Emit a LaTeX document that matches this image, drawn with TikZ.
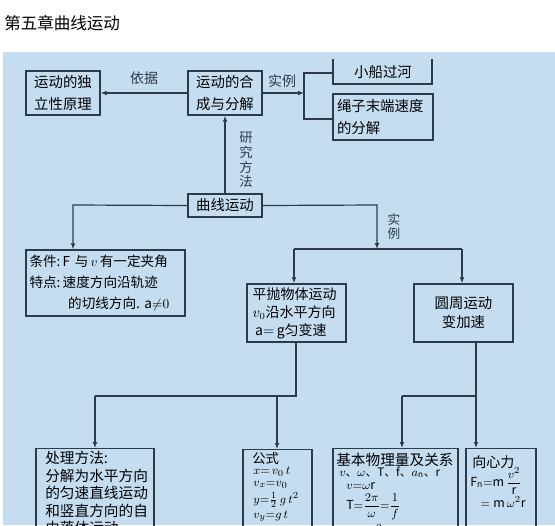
\documentclass[tikz,border=0pt]{standalone}
\usepackage{amsmath}
\usepackage{fontspec}
\setmainfont{Noto Sans CJK SC}
\usetikzlibrary{arrows.meta}
\definecolor{bg}{HTML}{C5DDF1}
\definecolor{ln}{HTML}{2C3B4B}
\begin{document}
\begin{tikzpicture}[x=0.75pt,y=-0.75pt,
  box/.style={draw=ln, line width=1.1pt, inner sep=0pt},
  conn/.style={draw=ln, line width=0.9pt},
  arr/.style={conn, -{Latex[length=4.5pt,width=3.6pt]}},
  big/.style={font=\fontsize{10.8pt}{16.5pt}\selectfont, inner sep=0pt},
  mid/.style={font=\fontsize{10.5pt}{13.5pt}\selectfont, inner sep=0pt},
  small/.style={font=\fontsize{9.3pt}{10pt}\selectfont, inner sep=0pt, anchor=west},
  lab/.style={font=\fontsize{10pt}{11pt}\selectfont, inner sep=0pt, align=center, text=ln}]
\useasboundingbox (0,0) rectangle (555,525);
\clip (0,0) rectangle (555,525);
\fill[white] (0,0) rectangle (555,525);
\fill[bg] (3,52) rectangle (555,525);

% title
\node[anchor=west, inner sep=0pt, font=\fontsize{12.4pt}{14pt}\selectfont] (title) at (4,23) {第五章曲线运动};

% top row
\node[box, big, align=center, minimum width=55.5pt, minimum height=33pt] (indep) at (63,93) {运动的独\\立性原理};
\node[box, big, align=center, minimum width=55.5pt, minimum height=33pt] (comp) at (225,93) {运动的合\\成与分解};
\node[big] (boat) at (383,72) {小船过河};
\draw[ln, line width=1.1pt] (333,59) -- (333,84) -- (432,84) -- (432,59);
\node[box, big, align=left, text width=69pt, minimum width=75pt, minimum height=34.5pt] (rope) at (383,117) {绳子末端速度\\的分解};

% connectors top
\draw[arr] (comp.west) -- (indep.east) node[lab, midway, above=6pt, font=\fontsize{10.5pt}{12pt}\selectfont] (yiju) {依据};
\coordinate (br) at (304,93);
\coordinate (brt) at (304,73);
\coordinate (brb) at (304,119);
\draw[arr] (comp.east) -- (br);
\node[lab, font=\fontsize{10.5pt}{12pt}\selectfont] (shili1) at (282,81) {实例};
\draw[conn] (333,73) -- (brt) -- (brb) -- (rope.west |- brb);

% 曲线运动
\node[box, big, minimum width=55.5pt, minimum height=17.25pt] (curve) at (225,205.5) {曲线运动};
\draw[arr] (curve.north) -- (comp.south);
\node[lab] (yanjiu) at (246,160) {研\\究\\方\\法};

\node[box, align=left, inner sep=0pt, text width=114pt, minimum width=119.25pt, minimum height=49.5pt, font=\fontsize{10.2pt}{16pt}\selectfont] (cond) at (105.5,283)
  {\mbox{条件:\,$\mathrm{F}$\,\,与\,$v$\,有一定夹角}\\\mbox{特点:\,速度方向沿轨迹}\\\hspace*{29pt}\mbox{的切线方向.\,\,$\mathrm{a}{\neq}0$}};
\coordinate (cl) at (73,205);
\draw[arr] (curve.west) -- (cl) -- (cond.north -| cl);

\coordinate (cr) at (377,205);
\coordinate (jn) at (377,249);
\draw[arr] (curve.east) -- (cr) -- (jn);
\node[lab, font=\fontsize{9.5pt}{10pt}\selectfont] (shili2) at (394,226.5) {实\\例};
\coordinate (jl) at (294,249);
\coordinate (jr) at (462,249);
\draw[conn] (jl) -- (jr);

\node[box, mid, align=left, text width=66pt, minimum width=74.25pt, minimum height=43.5pt] (proj) at (296.5,313)
  {平抛物体运动\\$v_0$沿水平方向\\\hspace*{2pt}$\mathrm{a}{=}\,\mathrm{g}$匀变速};
\node[box, mid, align=center, minimum width=74.25pt, minimum height=43.5pt, font=\fontsize{10.8pt}{14.25pt}\selectfont] (circ) at (463.5,313) {圆周运动\\变加速};
\draw[arr] (jl) -- (proj.north -| jl);
\draw[arr] (jr) -- (circ.north -| jr);

% bottom row boxes
\node[box, anchor=north, minimum width=88.5pt, minimum height=110pt] (method) at (95,448) {};
\node[mid, anchor=north west, align=left, font=\fontsize{11pt}{13.1pt}\selectfont] (methodtxt) at (45,451)
  {处理方法:\\分解为水平方向\\的匀速直线运动\\和竖直方向的自\\由落体运动};
\node[box, anchor=north, minimum width=51.75pt, minimum height=110pt] (formula) at (277.5,449) {};
\node[box, anchor=north, minimum width=93.75pt, minimum height=110pt] (basic) at (395.5,448) {};
\node[box, anchor=north, minimum width=52.5pt, minimum height=110pt] (cent) at (501,448) {};

% bottom connectors
\coordinate (pb) at (296,396);
\coordinate (ml) at (95,396);
\coordinate (fl) at (277,396);
\draw[conn] (proj.south -| pb) -- (pb) -- (ml);
\draw[arr] (ml) -- (method.north -| ml);
\draw[arr] (fl) -- (formula.north -| fl);
\coordinate (cb) at (476,396);
\coordinate (bl) at (402,396);
\draw[conn] (circ.south -| cb) -- (cb) -- (bl);
\draw[arr] (cb) -- (cent.north -| cb);
\draw[arr] (bl) -- (basic.north -| bl);

% formula contents
\node[small, font=\fontsize{10pt}{11pt}\selectfont] (f0) at (252,458) {公式};
\node[small] (f1) at (253,472) {$x{=}\,v_0\,t$};
\node[small] (f2) at (253,485) {$v_x{=}v_0$};
\node[small] (f3) at (253,500) {$y{=}\frac{1}{2}\,g\,t^2$};
\node[small] (f4) at (253,516) {$v_y{=}g\,t$};

% basic contents
\node[small, font=\fontsize{11pt}{12pt}\selectfont] (b0) at (336,460) {基本物理量及关系};
\node[small, font=\fontsize{8.8pt}{10pt}\selectfont] (b1) at (339,472) {$v$、$\omega$、$\mathrm{T}$、$\mathrm{f}$、$a_{\mathrm n}$、$\mathrm{r}$};
\node[small] (b2) at (346,486.5) {$v{=}\omega \mathrm{r}$};
\node[small] (b3) at (346,507) {$\mathrm{T}{=}\dfrac{2\pi}{\omega}{=}\dfrac{1}{f}$};
\node[small] (b4) at (346,538) {$a_{\mathrm n}{=}\dfrac{v^2}{\mathrm r}{=}\omega^2\mathrm{r}$};

% centripetal contents
\node[small, font=\fontsize{10.5pt}{12pt}\selectfont] (c0) at (472,462) {向心力};
\node[small] (c1) at (470,481) {$\mathrm{F_n}{=}\mathrm{m}\,\dfrac{v^2}{\mathrm r}$};
\node[small] (c2) at (480,502) {$=\mathrm{m}\,\omega^2\mathrm{r}$};
\end{tikzpicture}
\end{document}
